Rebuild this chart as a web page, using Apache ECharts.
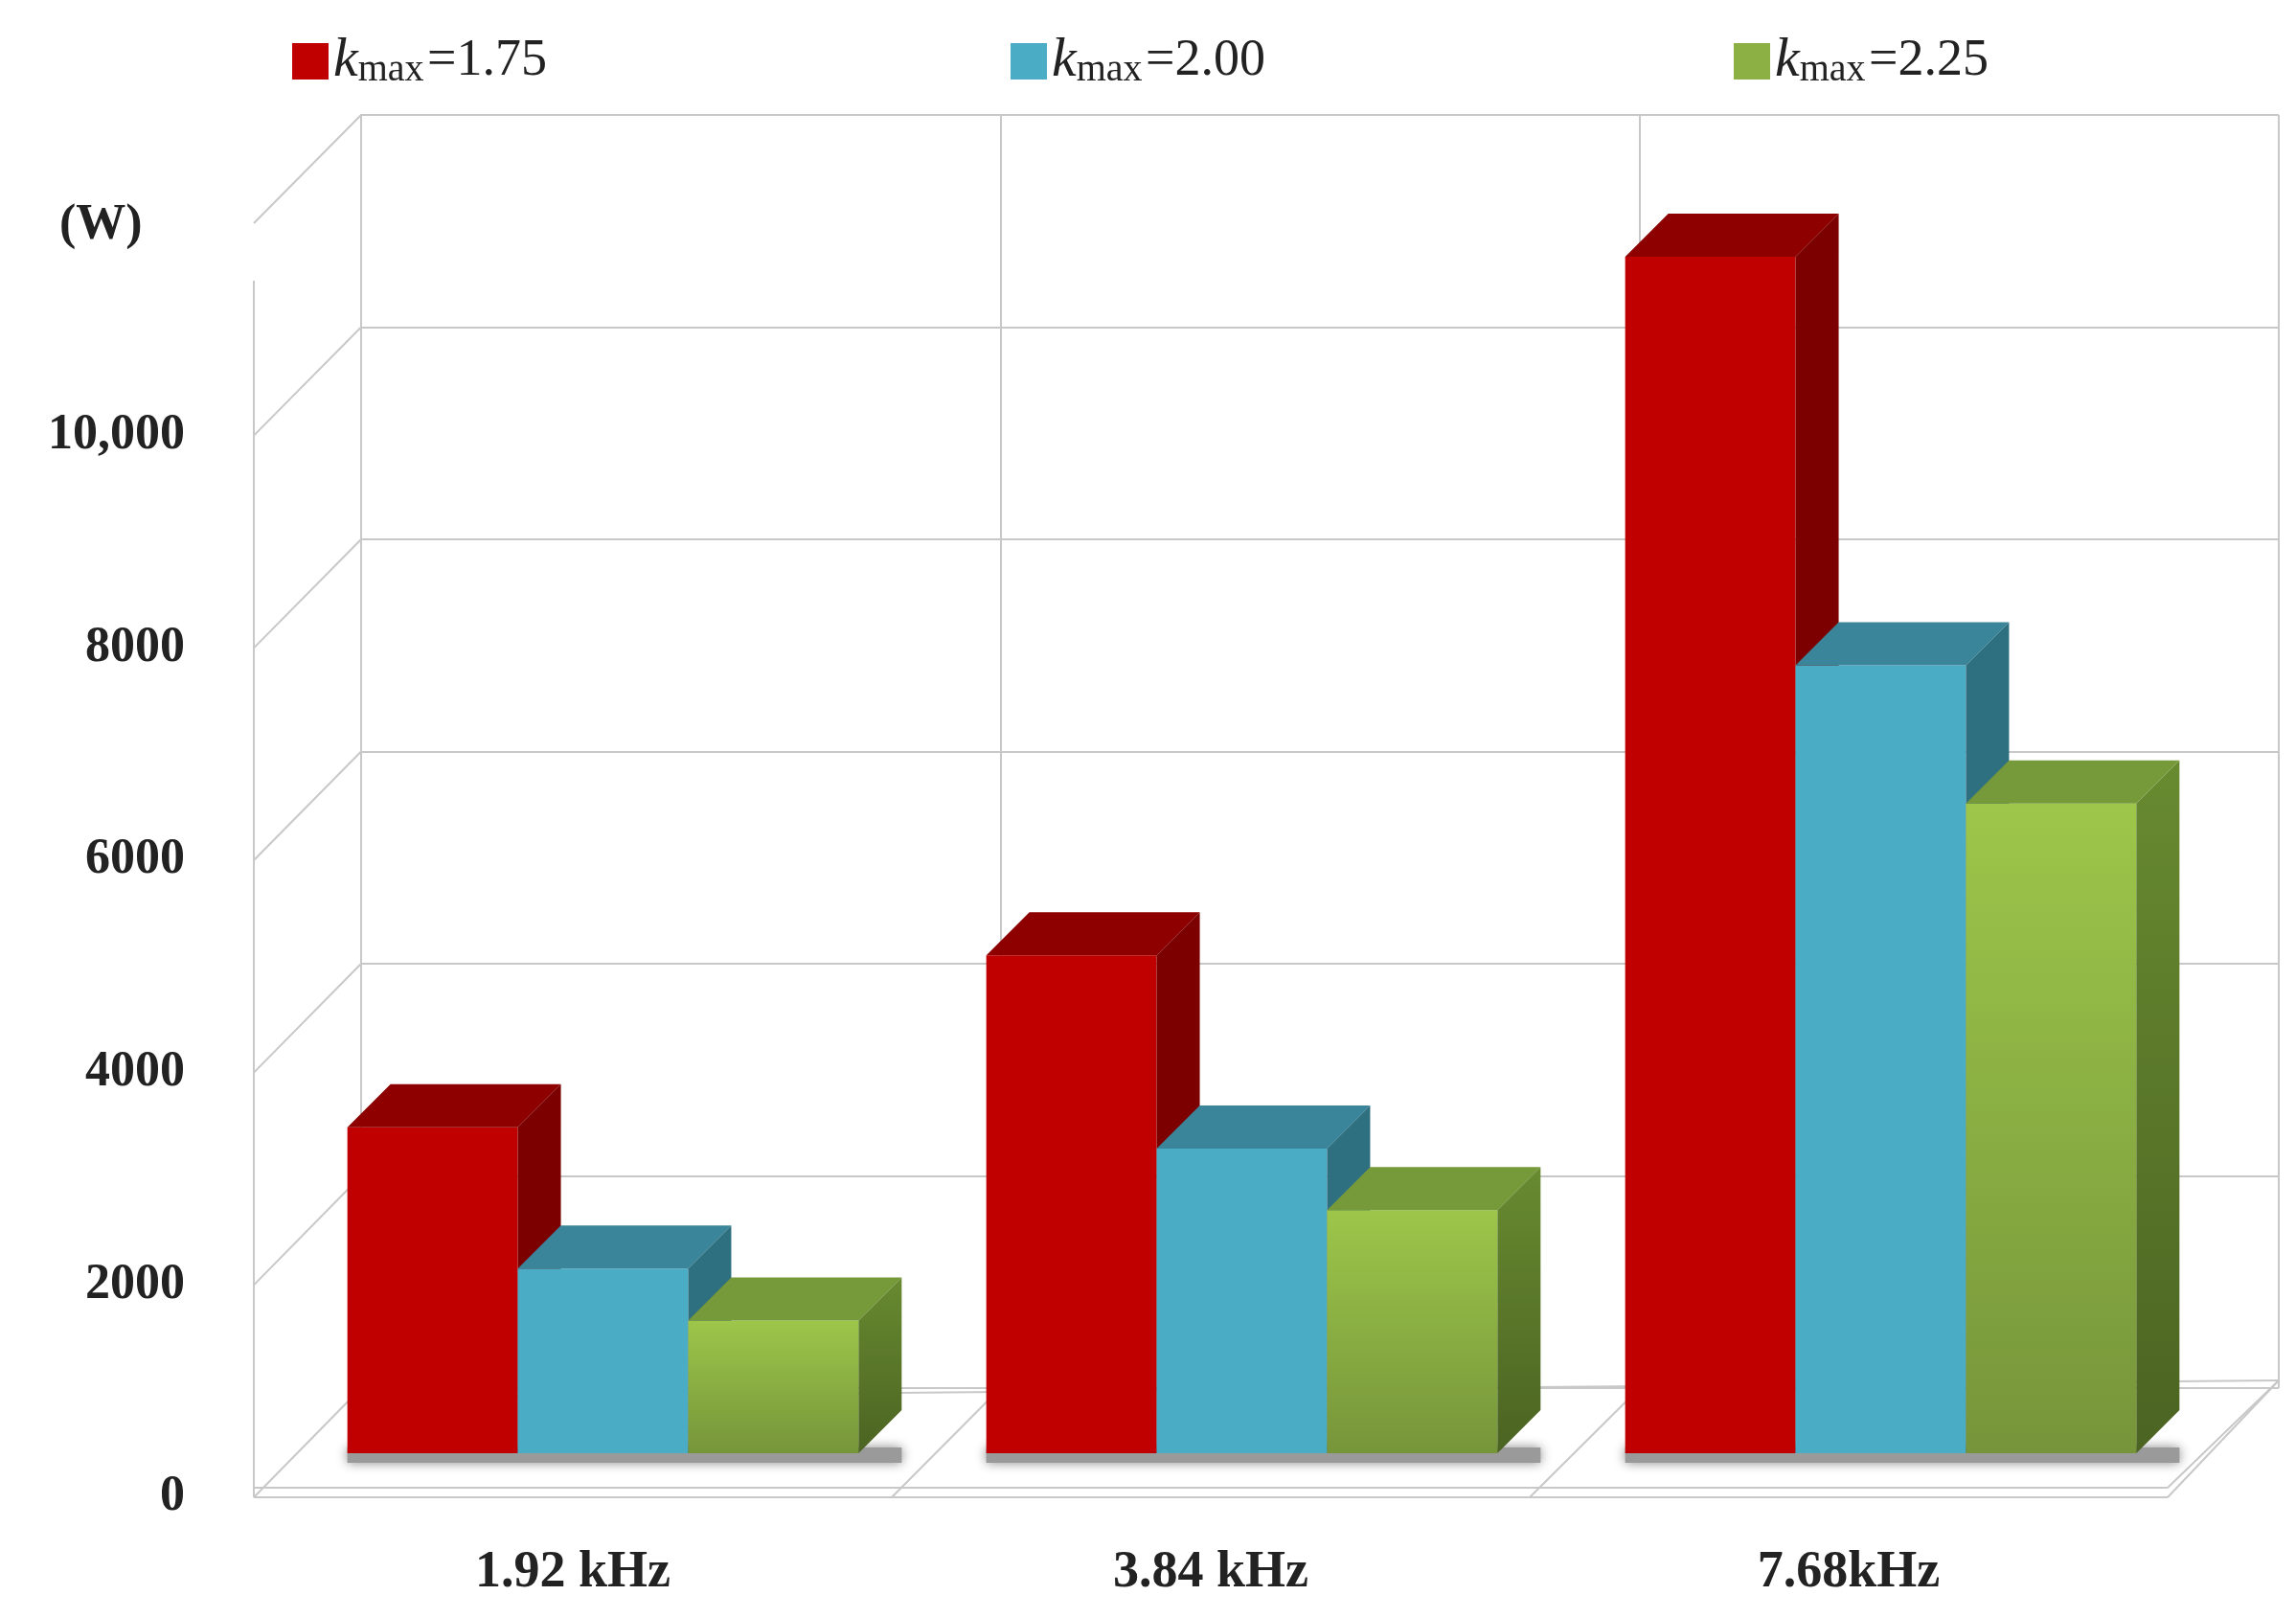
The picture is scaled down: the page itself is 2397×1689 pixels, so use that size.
<!DOCTYPE html>
<html><head><meta charset="utf-8">
<script src="https://cdn.jsdelivr.net/npm/echarts@6/dist/echarts.min.js"></script>
<style>html,body{margin:0;background:#fff}#c{width:2397px;height:1689px}</style>
</head><body><div id="c"></div>
<script>
var categories = ['1.92 kHz', '3.84 kHz', '7.68kHz'];
var seriesNames = ['1.75', '2.00', '2.25'];
var k175 = [3070, 1740, 1250];
var k200 = [4690, 2870, 2290];
var k225 = [11270, 7420, 6120];
k175 = [3070, 4690, 11270];
k200 = [1740, 2870, 7420];
k225 = [1250, 2290, 6120];
var yTicks = [0, 2000, 4000, 6000, 8000, 10000, 12000];

var font = '"Liberation Serif", "DejaVu Serif", serif';
var D = 45;
var faces = [
    {front: '#C00000', top: '#8E0000', side: '#7C0000'},
    {front: '#4BACC6', top: '#3A8599', side: '#2E6F80'},
    {front: new echarts.graphic.LinearGradient(0, 0, 0, 1, [{offset: 0, color: '#9DC64A'}, {offset: 1, color: '#76953A'}]),
     top: '#76993A', side: new echarts.graphic.LinearGradient(0, 0, 0, 1, [{offset: 0, color: '#688A30'}, {offset: 1, color: '#4B6422'}])}
];

function bar3d(s) {
    return function (params, api) {
        var cat = api.value(0), v = api.value(1);
        var base = api.coord([cat, 0]);
        var top = api.coord([cat, v])[1];
        var bw = api.size([1, 0])[0] * 0.2667;
        var x0 = base[0] - 1.5 * bw + s * bw, x1 = x0 + bw, y1 = base[1];
        var f = faces[s];
        return {type: 'group', children: [
            {type: 'rect', shape: {x: x0, y: top, width: bw, height: y1 - top}, style: {fill: f.front}},
            {type: 'polygon', shape: {points: [[x0, top], [x0 + D, top - D], [x1 + D, top - D], [x1, top]]}, style: {fill: f.top}},
            {type: 'polygon', shape: {points: [[x1, top], [x1 + D, top - D], [x1 + D, y1 - D], [x1, y1]]}, style: {fill: f.side}}
        ]};
    };
}

function legendText(n) {
    return '{k|k}{m|max} {v|=' + n + '}';
}

var chart = echarts.init(document.getElementById('c'));
var leftPos = [300, 1050, 1805];
chart.setOption({
    animation: false,
    grid: [
        {left: 265, right: 2397 - 2263, top: 233, height: 1330},
        {left: 296, right: 2397 - 2297, top: 187, height: 1330},
        {left: 377, right: 2397 - 2379, top: 120, height: 1329}
    ],
    legend: seriesNames.map(function (n, i) {
        return {
            data: ['k' + n], left: leftPos[i], top: 30, itemWidth: 38, itemHeight: 38, itemGap: 10, icon: 'rect',
            formatter: function () { return legendText(n); },
            textStyle: {rich: {
                k: {fontFamily: font, fontStyle: 'italic', fontSize: 58, color: '#222'},
                m: {fontFamily: font, fontSize: 40, color: '#222', padding: [18, 0, 0, 0]},
                v: {fontFamily: font, fontSize: 54, color: '#222'}
            }}
        };
    }),
    xAxis: [
        {gridIndex: 0, type: 'category', data: categories, axisLine: {show: false}, axisTick: {show: false},
         axisLabel: {fontFamily: font, fontWeight: 'bold', fontSize: 54, color: '#222', margin: 52}},
        {gridIndex: 1, type: 'category', data: categories, show: false},
        {gridIndex: 2, type: 'category', data: categories, axisLabel: {show: false}, axisTick: {show: false},
         axisLine: {show: false}, splitLine: {show: true, lineStyle: {color: '#c8c8c8', width: 2}}}
    ],
    yAxis: [
        {gridIndex: 0, min: 0, max: 12000, interval: 2000, axisLine: {show: false}, axisTick: {show: false},
         splitLine: {show: false},
         axisLabel: {fontFamily: font, fontWeight: 'bold', fontSize: 52, color: '#222', margin: 72,
             formatter: function (v) { return v === 12000 ? '' : v === 10000 ? '10,000' : String(v); }}},
        {gridIndex: 1, min: 0, max: 12000, interval: 2000, show: false},
        {gridIndex: 2, min: 0, max: 12000, interval: 2000, axisLabel: {show: false},
         axisLine: {show: true, lineStyle: {color: '#c8c8c8', width: 2}},
         splitLine: {show: true, lineStyle: {color: '#c8c8c8', width: 2}}}
    ],
    series: [k175, k200, k225].map(function (arr, s) {
        return {
            type: 'custom', name: 'k' + seriesNames[s], xAxisIndex: 1, yAxisIndex: 1, z: 5,
            itemStyle: {color: s === 2 ? '#8DB045' : faces[s].front},
            renderItem: bar3d(s),
            data: arr.map(function (v, i) { return [i, v]; })
        };
    })
});

// walls, floor and the (W) unit, placed from the axes' own scales
var g = [];
var line = function (a, b) {
    g.push({type: 'line', shape: {x1: a[0], y1: a[1], x2: b[0], y2: b[1]}, style: {stroke: '#c8c8c8', lineWidth: 2}, z: 1});
};
var fl = chart.convertToPixel({gridIndex: 0}, [0, 0]);
var leftX = 265, rightX = 2263;
var back0 = chart.convertToPixel({gridIndex: 2}, [0, 0])[1];
yTicks.forEach(function (t) {
    var yf = chart.convertToPixel({gridIndex: 0}, [0, t])[1];
    var yb = chart.convertToPixel({gridIndex: 2}, [0, t])[1];
    if (t > 0) line([leftX, yf], [377, yb]);
});
var top0 = chart.convertToPixel({gridIndex: 0}, [0, 12000])[1];
line([leftX, fl[1]], [leftX, top0 + 60]);
line([377, 120], [2379, 120]);
line([2379, 120], [2379, back0]);
// floor
line([leftX, fl[1]], [rightX, fl[1]]);
line([leftX, fl[1] - 10], [rightX, fl[1] - 10]);
line([leftX, fl[1]], [377, back0]);
line([rightX, fl[1]], [2379, back0 - 8]);
line([rightX, fl[1] - 10], [2379, back0 - 8]);
line([377, back0 + 10], [2379, back0 - 8]);
[1, 2].forEach(function (i) {
    var xb = 377 + (2379 - 377) * i / 3, xf = leftX + (rightX - leftX) * i / 3;
    line([xf, fl[1]], [xb, back0]);
});
// soft shadow under bars
[0, 1, 2].forEach(function (i) {
    var c = chart.convertToPixel({gridIndex: 1}, [i, 0]);
    var bw = 2001 / 3 * 0.2667;
    g.push({type: 'rect', shape: {x: c[0] - 1.5 * bw, y: c[1] - 6, width: 3 * bw + D, height: 16},
        style: {fill: '#9a9a9a', shadowBlur: 12, shadowColor: '#888'}, z: 2});
});
g.push({type: 'text', left: 62, top: 210, style: {text: '(W)', font: 'bold 52px ' + font, fill: '#222'}, z: 3});
chart.setOption({graphic: g});
</script>
</body></html>
